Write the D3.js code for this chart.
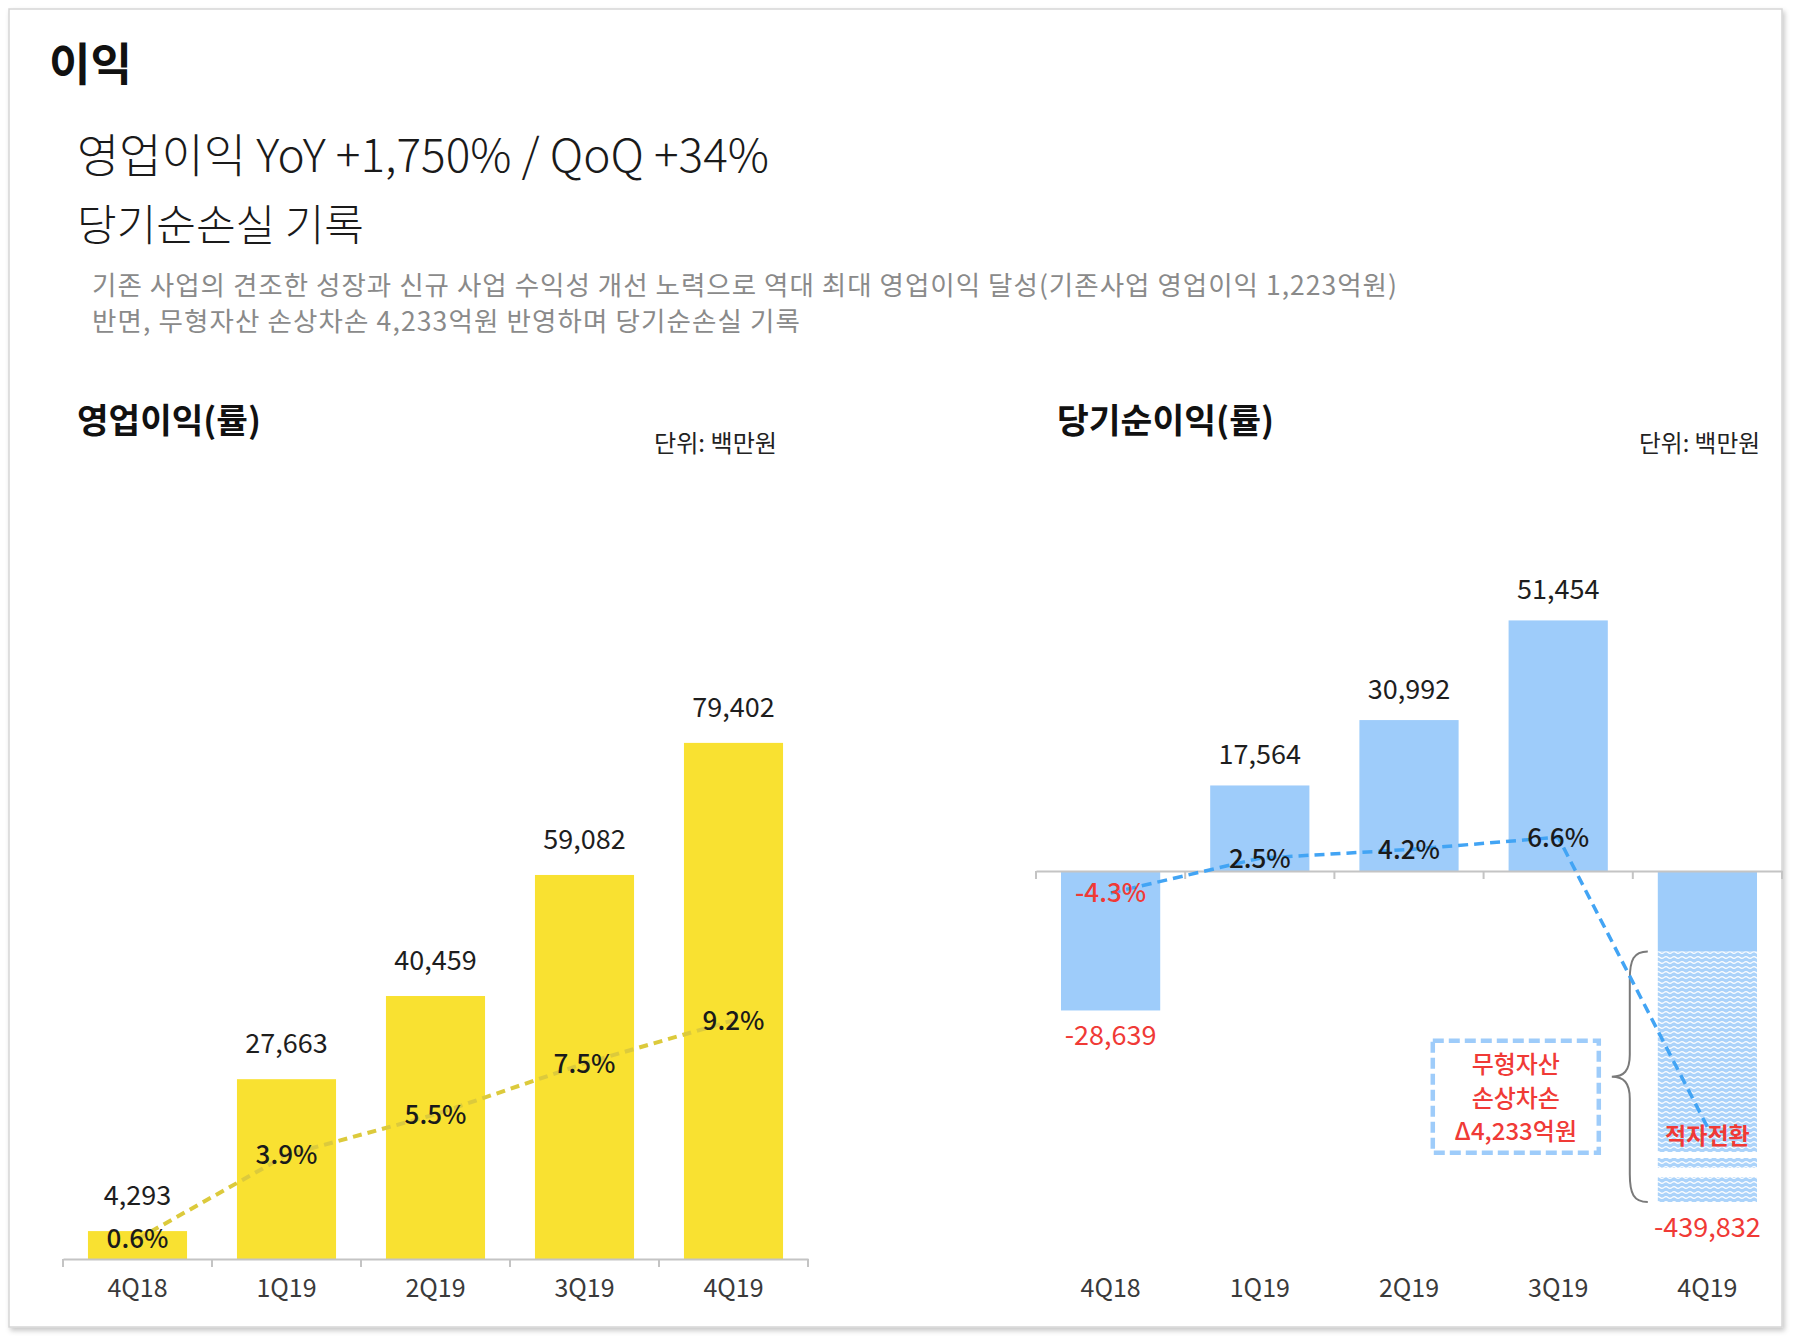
<!DOCTYPE html>
<html>
<head>
<meta charset="utf-8">
<script src="https://cdn.jsdelivr.net/npm/d3@7"></script>
<style>
  html, body { margin: 0; padding: 0; background: #fff; }
  svg { display: block; }
  text { font-family: "Noto Sans CJK KR", "Noto Sans", sans-serif; }
</style>
</head>
<body>
<svg id="chart" width="1794" height="1336"></svg>
<script>
// ---------------- DATA ----------------
const quarters = ["4Q18", "1Q19", "2Q19", "3Q19", "4Q19"];
const opProfit = [4293, 27663, 40459, 59082, 79402];          // 영업이익 (백만원)
const opMargin = [0.6, 3.9, 5.5, 7.5, 9.2];                    // 영업이익률 (%)
const netIncome = [-28639, 17564, 30992, 51454, -439832];      // 당기순이익 (백만원)
const netMargin = [-4.3, 2.5, 4.2, 6.6, -50.0];                // 당기순이익률 (%), 4Q19 estimated from line end
const netMarginLabels = ["-4.3%", "2.5%", "4.2%", "6.6%", "적자전환"];
const impairment = [0, 0, 0, 0, 423300];                       // 무형자산 손상차손 (백만원)

const titleText = "이익";
const headline1 = "영업이익 YoY +1,750% / QoQ +34%";
const headline2 = "당기순손실 기록";
const desc1 = "기존 사업의 견조한 성장과 신규 사업 수익성 개선 노력으로 역대 최대 영업이익 달성(기존사업 영업이익 1,223억원)";
const desc2 = "반면, 무형자산 손상차손 4,233억원 반영하며 당기순손실 기록";
const leftTitle = "영업이익(률)";
const rightTitle = "당기순이익(률)";
const unitText = "단위: 백만원";
const noteLines = ["무형자산", "손상차손", "Δ4,233억원"];

// ---------------- STYLE ----------------
const YELLOW = "#F9E131", YELLOW_LINE = "#DCCA3C";
const BLUE = "#9ECCFA", BLUE_LINE = "#42A4F4", RED = "#F03A36";
const AXIS = "#C4C4C4";
const LABEL_Y = 1297;

const svg = d3.select("#chart");
const defs = svg.append("defs");
const f = defs.append("filter").attr("id", "shadow").attr("x", "-2%").attr("y", "-2%").attr("width", "104%").attr("height", "104%");
f.append("feDropShadow").attr("dx", 2).attr("dy", 3).attr("stdDeviation", 2.5).attr("flood-color", "#000").attr("flood-opacity", 0.22);

const pat = defs.append("pattern").attr("id", "wave").attr("width", 8).attr("height", 5).attr("patternUnits", "userSpaceOnUse");
pat.append("rect").attr("width", 8).attr("height", 5).attr("fill", "#ABD3FA");
pat.append("path").attr("d", "M0 2.5 Q2 0.6 4 2.5 T8 2.5").attr("stroke", "#fff").attr("stroke-width", 1.2).attr("fill", "none");

// frame
svg.append("rect").attr("x", 9).attr("y", 9).attr("width", 1773).attr("height", 1318)
  .attr("fill", "#fff").attr("stroke", "#d6d6d6").attr("stroke-width", 1.5).attr("filter", "url(#shadow)");

function fit(sel, w, maxFs) {
  const L = sel.node().getComputedTextLength();
  const fs = parseFloat(sel.attr("font-size"));
  let nfs = L > 0 ? fs * w / L : fs;
  if (maxFs && nfs > maxFs) nfs = maxFs;
  sel.attr("font-size", nfs.toFixed(2));
  if (maxFs) {
    const L2 = sel.node().getComputedTextLength();
    sel.attr("letter-spacing", ((w - L2) / sel.text().length).toFixed(3));
  }
  return sel;
}

// ---------------- HEADER ----------------
fit(svg.append("text").attr("x", 49).attr("y", 81).attr("font-size", 48).attr("font-weight", 700).attr("fill", "#111").text(titleText), 83);
fit(svg.append("text").attr("x", 77).attr("y", 172).attr("font-size", 44).attr("font-weight", 300).attr("fill", "#1a1a1a").text(headline1), 692);
fit(svg.append("text").attr("x", 77).attr("y", 241).attr("font-size", 44).attr("font-weight", 300).attr("fill", "#1a1a1a").text(headline2), 287);
fit(svg.append("text").attr("x", 92).attr("y", 295).attr("font-size", 25).attr("font-weight", 400).attr("fill", "#8a8a8a").text(desc1), 1306, 26.5);
fit(svg.append("text").attr("x", 92).attr("y", 331).attr("font-size", 25).attr("font-weight", 400).attr("fill", "#8a8a8a").text(desc2), 709, 26.5);

// chart titles
fit(svg.append("text").attr("x", 77).attr("y", 433).attr("font-size", 34).attr("font-weight", 700).attr("fill", "#111").text(leftTitle), 184);
fit(svg.append("text").attr("x", 1057).attr("y", 433).attr("font-size", 34).attr("font-weight", 700).attr("fill", "#111").text(rightTitle), 217);
fit(svg.append("text").attr("x", 777).attr("y", 452).attr("font-size", 22).attr("text-anchor", "end").attr("fill", "#222").text(unitText), 123);
fit(svg.append("text").attr("x", 1760).attr("y", 452).attr("font-size", 22).attr("text-anchor", "end").attr("fill", "#222").text(unitText), 121);

// ---------------- helpers ----------------
function drawAxis(g, x, y0) {
  const axis = d3.axisBottom(x).tickSizeInner(0).tickSizeOuter(0).tickPadding(0);
  const ag = g.append("g").attr("transform", `translate(0,${y0})`).call(axis);
  ag.select(".domain").attr("stroke", AXIS).attr("stroke-width", 2);
  ag.selectAll(".tick text").attr("y", LABEL_Y - y0).attr("dy", null)
    .attr("font-size", 25).attr("fill", "#3a3a3a")
    .style("font-family", '"Noto Sans CJK KR", "Noto Sans", sans-serif');
  // tick marks at band boundaries
  const step = x.step();
  const bounds = x.domain().map(d => x(d) - step * x.paddingInner() / 2);
  bounds.push(bounds[bounds.length - 1] + step);
  g.selectAll(null).data(bounds).enter().append("line")
    .attr("x1", d => d).attr("x2", d => d).attr("y1", y0).attr("y2", y0 + 8)
    .attr("stroke", AXIS).attr("stroke-width", 2);
}

// ---------------- LEFT CHART ----------------
const gL = svg.append("g");
const xL = d3.scaleBand().domain(quarters).range([63, 808]).paddingInner(0.335).paddingOuter(0.1675);
const yL = d3.scaleLinear().domain([0, 100000]).range([1259, 609]);
const rL = d3.scaleLinear().domain([0, 10]).range([1254.4, 999.8]);
const fmt = d3.format(",");

gL.selectAll(".barL").data(opProfit).enter().append("rect")
  .attr("x", (d, i) => xL(quarters[i])).attr("width", xL.bandwidth())
  .attr("y", d => yL(d)).attr("height", d => yL(0) - yL(d)).attr("fill", YELLOW);

drawAxis(gL, xL, 1259);

gL.selectAll(".valL").data(opProfit).enter().append("text")
  .attr("x", (d, i) => xL(quarters[i]) + xL.bandwidth() / 2).attr("y", d => yL(d) - 26)
  .attr("text-anchor", "middle").attr("font-size", 27).attr("fill", "#1e1e1e").text(d => fmt(d));

const lineL = d3.line().x((d, i) => xL(quarters[i]) + xL.bandwidth() / 2).y(d => rL(d));
gL.append("path").datum(opMargin).attr("d", lineL).attr("fill", "none")
  .attr("stroke", YELLOW_LINE).attr("stroke-width", 4).attr("stroke-dasharray", "9,6");

gL.selectAll(".rateL").data(opMargin).enter().append("text")
  .attr("x", (d, i) => xL(quarters[i]) + xL.bandwidth() / 2).attr("y", d => rL(d)).attr("dy", "0.36em")
  .attr("text-anchor", "middle").attr("font-size", 26).attr("font-weight", 500).attr("fill", "#1a1a1a")
  .text(d => d.toFixed(1) + "%");

// ---------------- RIGHT CHART ----------------
const gR = svg.append("g");
const xR = d3.scaleBand().domain(quarters).range([1036, 1782]).paddingInner(0.335).paddingOuter(0.1675);
// broken axis: normal scale near zero, compressed below -60,000
const yR = d3.scaleLinear().domain([-439832, -60000, 0, 60000]).range([1202, 1163.2, 871, 578.8]);
const rR = d3.scaleLinear().domain([0, 10]).range([871, 819.8]);

const solidVals = netIncome.map((v, i) => v + impairment[i]);

gR.selectAll(".barR").data(solidVals).enter().append("rect")
  .attr("x", (d, i) => xR(quarters[i])).attr("width", xR.bandwidth())
  .attr("y", d => yR(Math.max(0, d))).attr("height", d => Math.abs(yR(d) - yR(0))).attr("fill", BLUE);

// impairment part (patterned)
const impIdx = impairment.map((d, i) => i).filter(i => impairment[i] > 0);
impIdx.forEach(i => {
  const x0 = xR(quarters[i]), w = xR.bandwidth();
  const top = yR(solidVals[i]), bot = yR(netIncome[i]);
  gR.append("rect").attr("x", x0).attr("width", w).attr("y", top).attr("height", bot - top).attr("fill", "url(#wave)");
  // axis-break gaps
  gR.append("rect").attr("x", x0 - 1).attr("width", w + 2).attr("y", bot - 50).attr("height", 6).attr("fill", "#fff");
  gR.append("rect").attr("x", x0 - 1).attr("width", w + 2).attr("y", bot - 34).attr("height", 9).attr("fill", "#fff");
  // brace
  const bx = x0 - 10, mid = (top + bot) / 2;
  const br = `M${bx} ${top} C${bx - 14} ${top} ${bx - 18} ${top + 8} ${bx - 18} ${top + 28}
              L${bx - 18} ${mid - 22} C${bx - 18} ${mid - 6} ${bx - 24} ${mid} ${bx - 36} ${mid}
              C${bx - 24} ${mid} ${bx - 18} ${mid + 6} ${bx - 18} ${mid + 22}
              L${bx - 18} ${bot - 28} C${bx - 18} ${bot - 8} ${bx - 14} ${bot} ${bx} ${bot}`;
  gR.append("path").attr("d", br).attr("fill", "none").attr("stroke", "#7a7a7a").attr("stroke-width", 2);
  // note box
  const bw = 166, bh = 112, bxr = bx - 49;
  gR.append("rect").attr("x", bxr - bw).attr("y", mid - 36).attr("width", bw).attr("height", bh)
    .attr("fill", "#fff").attr("stroke", BLUE).attr("stroke-width", 4.5).attr("stroke-dasharray", "11,5");
  gR.selectAll(".note").data(noteLines).enter().append("text")
    .attr("x", bxr - bw / 2).attr("y", (d, k) => mid - 12 + k * 33.5).attr("dy", "0.36em")
    .attr("text-anchor", "middle").attr("font-size", 24).attr("font-weight", 500).attr("fill", RED).text(d => d);
});

drawAxis(gR, xR, 871);

gR.selectAll(".valR").data(netIncome).enter().append("text")
  .attr("x", (d, i) => xR(quarters[i]) + xR.bandwidth() / 2)
  .attr("y", d => d >= 0 ? yR(d) - 21 : yR(d) + 35)
  .attr("text-anchor", "middle").attr("font-size", 27)
  .attr("fill", d => d >= 0 ? "#1e1e1e" : RED).text(d => fmt(d).replace("−", "-"));

const lineR = d3.line().x((d, i) => xR(quarters[i]) + xR.bandwidth() / 2).y(d => rR(d));
gR.append("path").datum(netMargin).attr("d", lineR).attr("fill", "none")
  .attr("stroke", BLUE_LINE).attr("stroke-width", 3.5).attr("stroke-dasharray", "10,6");

gR.selectAll(".rateR").data(netMargin).enter().append("text")
  .attr("x", (d, i) => xR(quarters[i]) + xR.bandwidth() / 2)
  .attr("y", (d, i) => rR(d) + (i === 4 ? 9 : 0)).attr("dy", "0.36em")
  .attr("text-anchor", "middle").attr("font-size", (d, i) => i === 4 ? 23 : 26).attr("font-weight", (d, i) => i === 4 ? 700 : 500)
  .attr("fill", d => d < 0 ? RED : "#1a1a1a").text((d, i) => netMarginLabels[i]);
</script>
</body>
</html>
